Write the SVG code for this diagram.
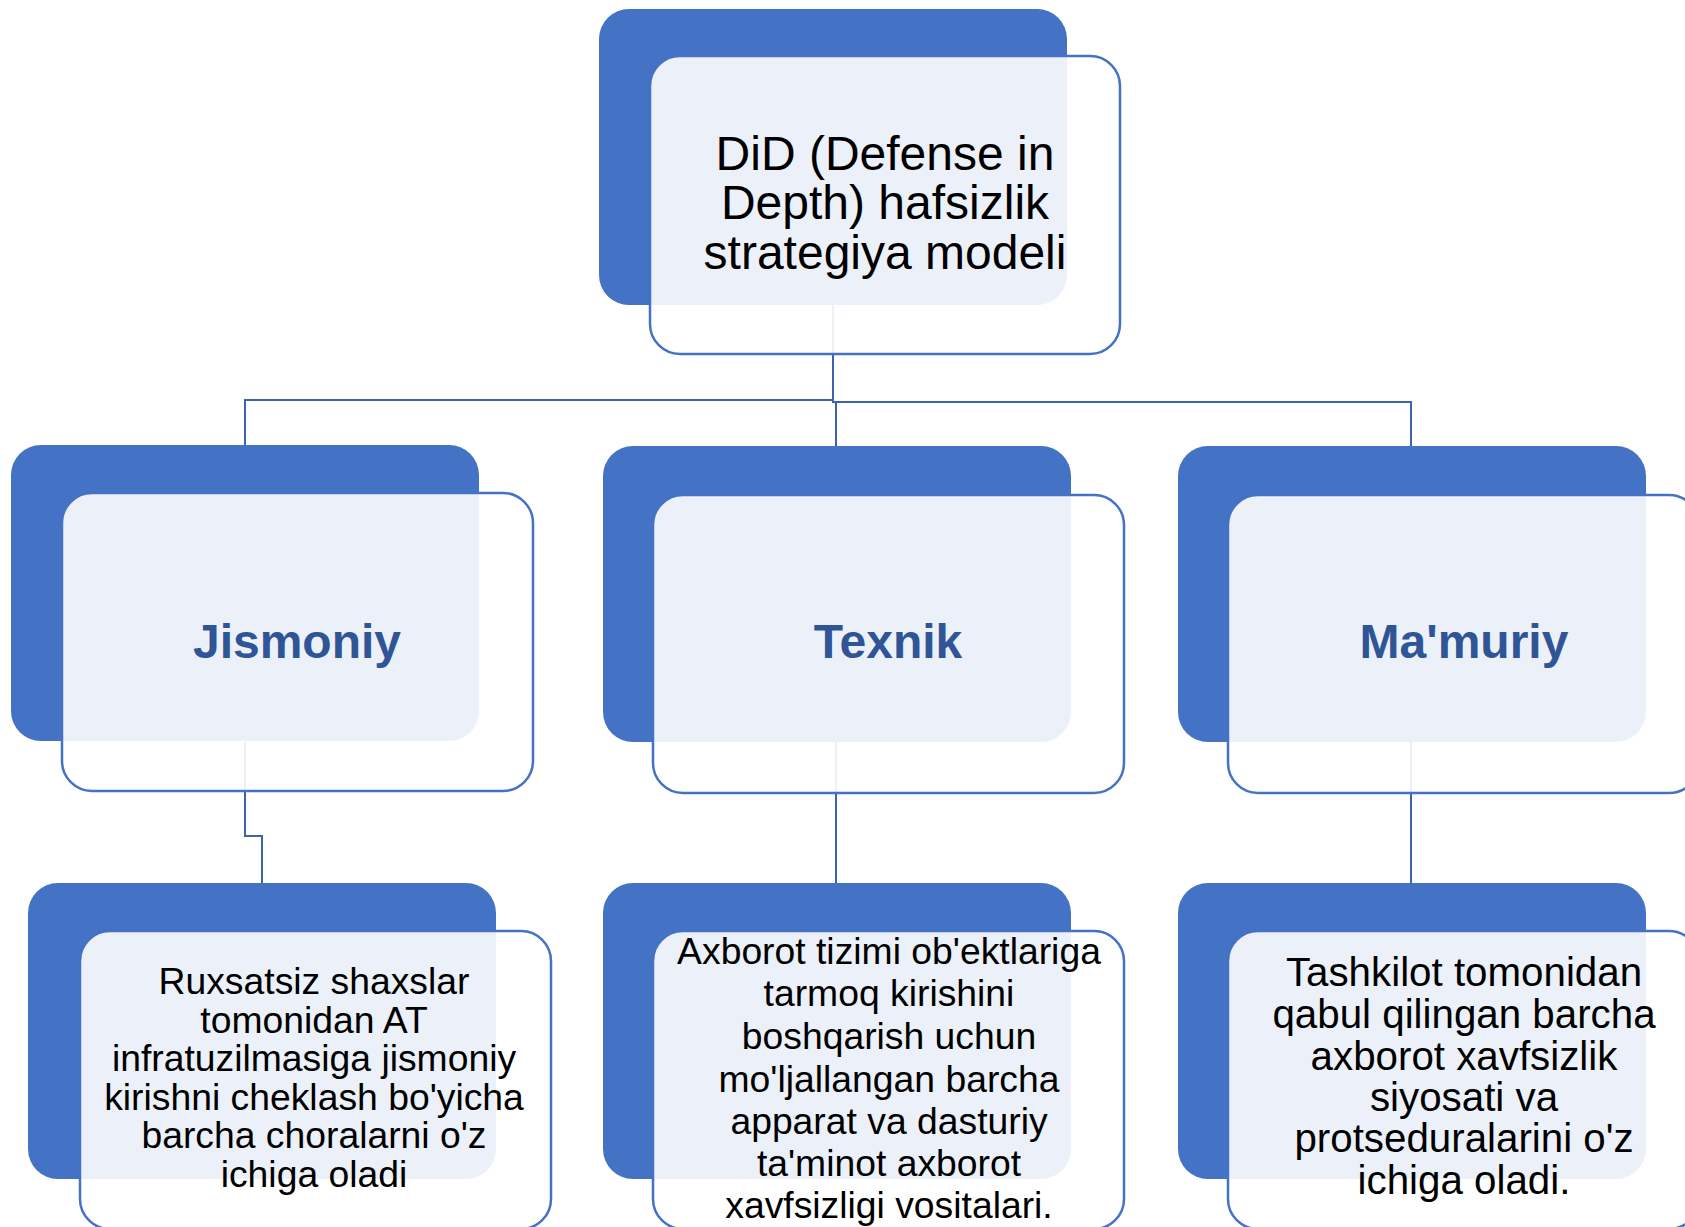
<svg xmlns="http://www.w3.org/2000/svg" width="1685" height="1227" viewBox="0 0 1685 1227">
<style>
.back{fill:#4472C4;}
.front{fill:#FFFFFF;fill-opacity:0.9;stroke:#4472C4;stroke-width:2.5;}
.conn{fill:none;stroke:#3C64AE;stroke-width:2;}
.t1{font-family:"Liberation Sans",Arial,sans-serif;font-size:48px;fill:#000000;text-anchor:middle;}
.t2{font-family:"Liberation Sans",Arial,sans-serif;font-size:48px;font-weight:bold;fill:#2F5597;text-anchor:middle;}
.t3{font-family:"Liberation Sans",Arial,sans-serif;font-size:37.3px;fill:#000000;text-anchor:middle;}
.t3r{font-family:"Liberation Sans",Arial,sans-serif;font-size:40.3px;fill:#000000;text-anchor:middle;}
</style>
<rect width="1685" height="1227" fill="#FFFFFF"/>
<g id="connectors">
<path class="conn" d="M833,304 V400 H245 V445"/>
<path class="conn" d="M833,304 V402 H836 V446"/>
<path class="conn" d="M833,304 V402 H1411 V446"/>
<path class="conn" d="M245,742 V836 H262 V883"/>
<path class="conn" d="M836,742 V883"/>
<path class="conn" d="M1411,742 V883"/>
</g>
<g id="node-top">
<rect class="back" x="599" y="9" width="468" height="296" rx="30"/>
<rect class="front" x="650" y="56" width="470" height="298" rx="30"/>
<text class="t1"><tspan x="885" y="170">DiD (Defense in</tspan><tspan x="885" y="219">Depth) hafsizlik</tspan><tspan x="885" y="269">strategiya modeli</tspan></text>
</g>
<g id="node-jismoniy">
<rect class="back" x="11" y="445" width="468" height="296" rx="30"/>
<rect class="front" x="62" y="493" width="471" height="298" rx="30"/>
<text class="t2" x="297" y="658">Jismoniy</text>
</g>
<g id="node-texnik">
<rect class="back" x="603" y="446" width="468" height="296" rx="30"/>
<rect class="front" x="653" y="495" width="471" height="298" rx="30"/>
<text class="t2" x="888" y="658">Texnik</text>
</g>
<g id="node-mamuriy">
<rect class="back" x="1178" y="446" width="468" height="296" rx="30"/>
<rect class="front" x="1228" y="495" width="471" height="298" rx="30"/>
<text class="t2" x="1464" y="658">Ma'muriy</text>
</g>
<g id="node-jismoniy-desc">
<rect class="back" x="28" y="883" width="468" height="296" rx="30"/>
<rect class="front" x="80" y="931" width="471" height="298" rx="30"/>
<text class="t3"><tspan x="314" y="994">Ruxsatsiz shaxslar</tspan><tspan x="314" y="1032.5">tomonidan AT</tspan><tspan x="314" y="1071">infratuzilmasiga jismoniy</tspan><tspan x="314" y="1109.5">kirishni cheklash bo'yicha</tspan><tspan x="314" y="1148">barcha choralarni o'z</tspan><tspan x="314" y="1186.5">ichiga oladi</tspan></text>
</g>
<g id="node-texnik-desc">
<rect class="back" x="603" y="883" width="468" height="296" rx="30"/>
<rect class="front" x="653" y="931" width="471" height="298" rx="30"/>
<text class="t3"><tspan x="889" y="964">Axborot tizimi ob'ektlariga</tspan><tspan x="889" y="1006">tarmoq kirishini</tspan><tspan x="889" y="1049">boshqarish uchun</tspan><tspan x="889" y="1092">mo'ljallangan barcha</tspan><tspan x="889" y="1134">apparat va dasturiy</tspan><tspan x="889" y="1176">ta'minot axborot</tspan><tspan x="889" y="1218">xavfsizligi vositalari.</tspan></text>
</g>
<g id="node-mamuriy-desc">
<rect class="back" x="1178" y="883" width="468" height="296" rx="30"/>
<rect class="front" x="1228" y="931" width="471" height="298" rx="30"/>
<text class="t3r"><tspan x="1464" y="986">Tashkilot tomonidan</tspan><tspan x="1464" y="1028">qabul qilingan barcha</tspan><tspan x="1464" y="1070">axborot xavfsizlik</tspan><tspan x="1464" y="1111">siyosati va</tspan><tspan x="1464" y="1152">protseduralarini o'z</tspan><tspan x="1464" y="1194">ichiga oladi.</tspan></text>
</g>
</svg>
